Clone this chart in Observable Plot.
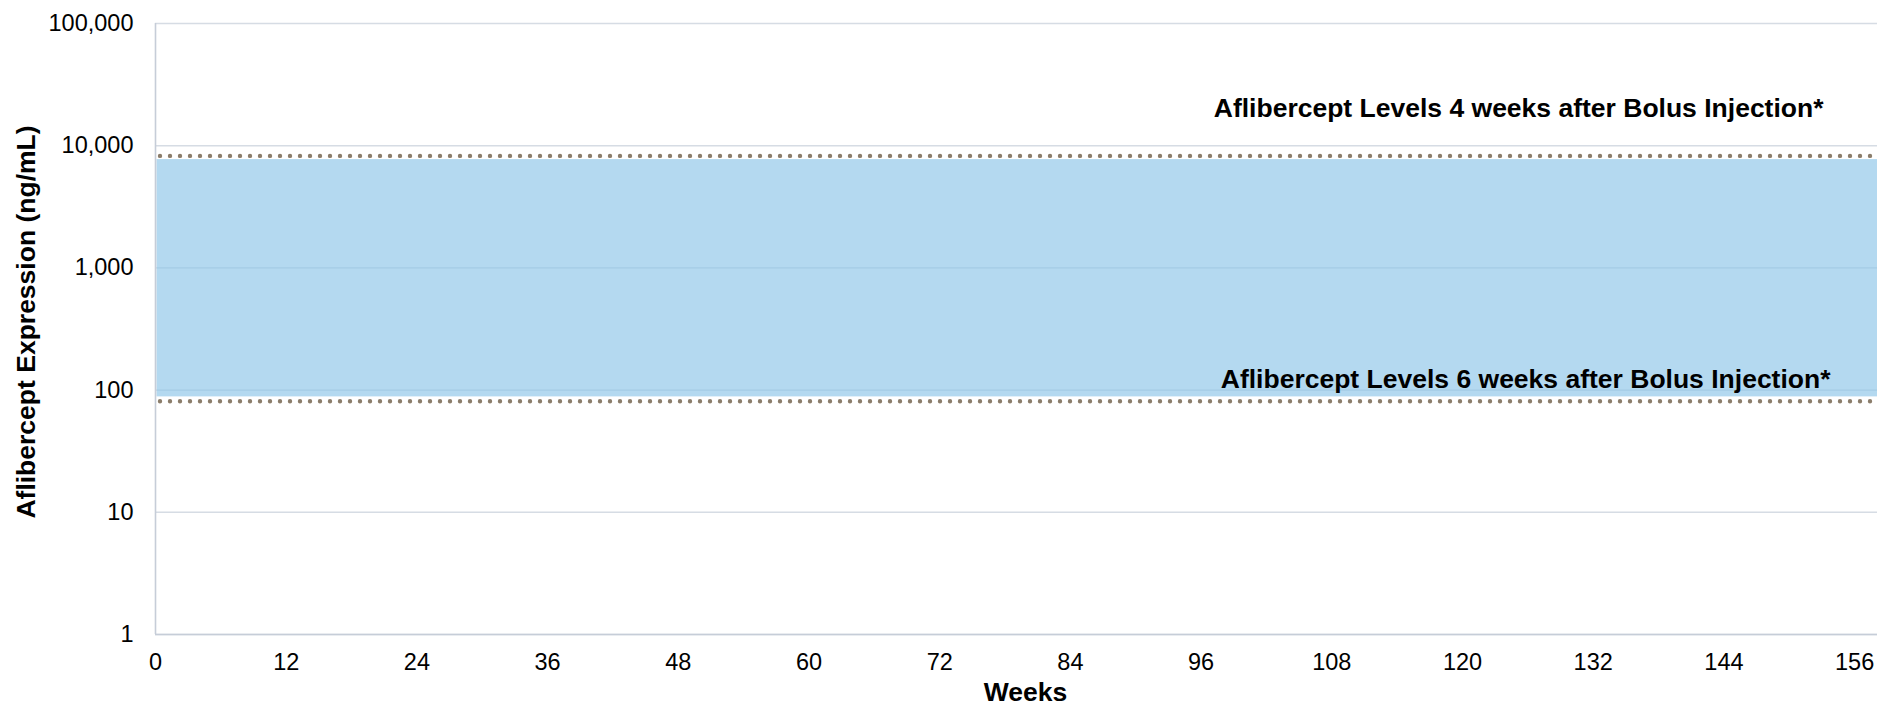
<!DOCTYPE html>
<html>
<head>
<meta charset="utf-8">
<script src="https://cdn.jsdelivr.net/npm/d3@7"></script>
<script src="https://cdn.jsdelivr.net/npm/@observablehq/plot@0.6"></script>
<style>
  html, body { margin: 0; padding: 0; background: #fff; overflow: hidden; }
  #chart svg { display: block; }
</style>
</head>
<body>
<div id="chart"></div>
<script>
// Axis ticks
const weekTicks = [0, 12, 24, 36, 48, 60, 72, 84, 96, 108, 120, 132, 144, 156];
const concTicks = [1, 10, 100, 1000, 10000, 100000];

// Shaded expression range (ng/mL)
const bandLow = [88];
const bandHigh = [7700];

// Reference levels after a bolus injection (ng/mL)
const levelValues = [8250, 81];
const levelLabels = [
  "Aflibercept Levels 4 weeks after Bolus Injection*",
  "Aflibercept Levels 6 weeks after Bolus Injection*"
];

const xTitle = "Weeks";
const yTitle = "Aflibercept Expression (ng/mL)";

const band = bandLow.map((lo, i) => ({lo, hi: bandHigh[i]}));
const levels = levelValues.map((v, i) => ({v, label: levelLabels[i]}));

const bold = {fontSize: 26.5, fontWeight: "bold", fill: "#000"};

const chart = Plot.plot({
  width: 1877,
  height: 708,
  marginLeft: 155,
  marginRight: 0,
  marginTop: 23,
  marginBottom: 74,
  style: {fontFamily: "'Liberation Sans', Arial, sans-serif", fontSize: "23.5px", color: "#000", background: "#fff"},
  x: {domain: [0, 158.1]},
  y: {type: "log", domain: [1, 100000]},
  marks: [
    Plot.gridY(concTicks, {stroke: "#d6dce4", strokeOpacity: 1, strokeWidth: 1.4}),
    Plot.rectY(band, {y1: "lo", y2: "hi", fill: "#82c0e6", fillOpacity: 0.6, insetLeft: 1.5}),
    Plot.ruleX([0], {stroke: "#c6cdd8", strokeWidth: 1.6}),
    Plot.ruleY([1], {stroke: "#c6cdd8", strokeWidth: 1.6}),
    // dotted reference lines: zero-length dashes with round caps
    Plot.ruleY(levels, {
      y: "v", stroke: "#8b7d6b", strokeWidth: 4.4,
      strokeDasharray: "0 10", strokeDashoffset: 5, strokeLinecap: "round"
    }),
    Plot.axisX({ticks: weekTicks, tickSize: 0, tickPadding: 19, label: null}),
    Plot.axisY({ticks: concTicks, tickFormat: d3.format(","), tickSize: 0, tickPadding: 22, label: null}),
    Plot.text([levels[0]], {y: "v", text: "label", frameAnchor: "right", textAnchor: "end", lineAnchor: "middle", dx: -54, dy: -47, ...bold}),
    Plot.text([levels[1]], {y: "v", text: "label", frameAnchor: "right", textAnchor: "end", lineAnchor: "middle", dx: -47, dy: -22, ...bold}),
    Plot.text([xTitle], {text: d => d, frameAnchor: "bottom", lineAnchor: "middle", dx: 9, dy: 58, ...bold})
  ]
});

// Rotated y-axis title, centred beside the plot frame
d3.select(chart).append("text")
  .attr("transform", "translate(35,322) rotate(-90)")
  .attr("text-anchor", "middle")
  .attr("font-size", bold.fontSize)
  .attr("font-weight", "bold")
  .attr("fill", "#000")
  .text(yTitle);

document.getElementById("chart").append(chart);
</script>
</body>
</html>
